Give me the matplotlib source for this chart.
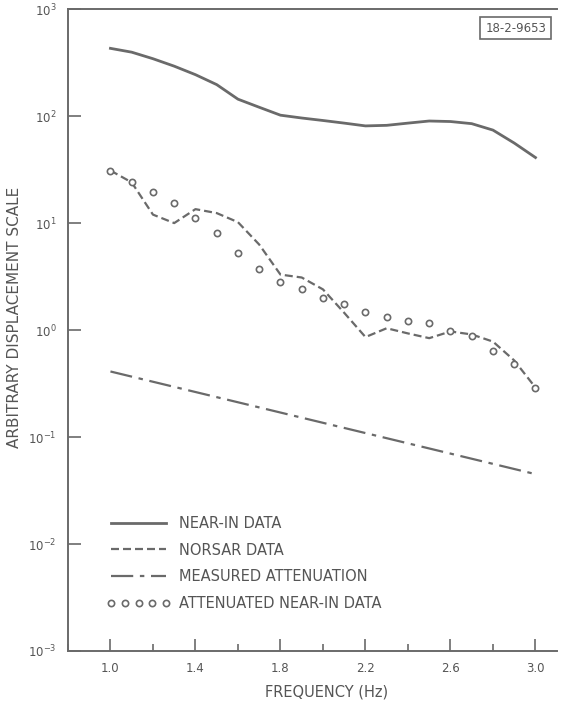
import matplotlib
matplotlib.use("Agg")
import matplotlib.pyplot as plt
from matplotlib.ticker import MultipleLocator, FixedLocator, NullLocator

# values
freq = [1.0, 1.1, 1.2, 1.3, 1.4, 1.5, 1.6, 1.7, 1.8, 1.9, 2.0,
        2.1, 2.2, 2.3, 2.4, 2.5, 2.6, 2.7, 2.8, 2.9, 3.0]
near_in = [430, 396, 344, 293, 244, 197, 144, 121, 102, 96, 91,
           86, 81, 82, 86, 90, 89, 85, 74, 56, 41]
norsar = [31, 24, 12, 10, 13.5, 12.4, 10.2, 6.3, 3.3, 3.1, 2.4,
          1.45, 0.86, 1.04, 0.93, 0.84, 0.97, 0.91, 0.78, 0.52, 0.29]
attenuated = [31, 24, 19.5, 15.4, 11.1, 8.1, 5.2, 3.7, 2.8, 2.4, 2.0,
              1.75, 1.47, 1.32, 1.21, 1.16, 0.98, 0.88, 0.64, 0.48, 0.29]
atten_freq = [1.0, 3.0]
atten_vals = [0.41, 0.045]

xticks = [1.0, 1.4, 1.8, 2.2, 2.6, 3.0]
yticks = [1e-3, 1e-2, 1e-1, 1e0, 1e1, 1e2, 1e3]

GRAY = "#6a6a6a"
TXT = "#555555"

plt.rcParams['font.family'] = ['DejaVu Sans']

fig = plt.figure(figsize=(5.71, 7.03), dpi=100)
ax = fig.add_axes([0.119, 0.074, 0.856, 0.913])

ax.plot(freq, near_in, color=GRAY, lw=2.0, label='NEAR-IN DATA')
ax.plot(freq, norsar, color=GRAY, lw=1.6, ls=(0, (3.6, 1.8)), label='NORSAR DATA')
ax.plot(atten_freq, atten_vals, color=GRAY, lw=1.6,
        ls=(0, (10, 3, 2, 3)), label='MEASURED ATTENUATION')
ax.plot(freq, attenuated, ls='none', marker='o', ms=4.5, mfc='white',
        mec=GRAY, mew=1.2, label='ATTENUATED NEAR-IN DATA')

ax.set_yscale('log')
ax.set_ylim(1e-3, 1e3)
ax.set_xlim(0.8, 3.1)

ax.set_xticks(xticks)
ax.set_xticklabels([f"{t:.1f}" for t in xticks])
ax.xaxis.set_minor_locator(MultipleLocator(0.2))
ax.yaxis.set_major_locator(FixedLocator(yticks))
ax.yaxis.set_minor_locator(NullLocator())

ax.tick_params(which='both', direction='in', colors=GRAY, labelcolor=TXT,
               labelsize=8.5, width=1.2)
ax.tick_params(axis='x', which='major', length=9, pad=8)
ax.tick_params(axis='x', which='minor', length=5)
ax.tick_params(axis='y', which='major', length=9, pad=8)

for side in ['left', 'bottom', 'top']:
    ax.spines[side].set_color(GRAY)
    ax.spines[side].set_linewidth(1.4)
ax.spines['right'].set_visible(False)

ax.set_xlabel('FREQUENCY (Hz)', color=TXT, fontsize=10.5)
ax.xaxis.set_label_coords(0.53, -0.052)
ax.set_ylabel('ARBITRARY DISPLACEMENT SCALE', color=TXT, fontsize=11)
ax.yaxis.set_label_coords(-0.094, 0.52)

leg = ax.legend(loc='lower left', bbox_to_anchor=(0.052, 0.042), frameon=False,
                fontsize=10.5, handlelength=4.4, handletextpad=0.6,
                labelspacing=0.8, numpoints=5, labelcolor=TXT)

fig.text(0.903, 0.96, '18-2-9653', fontsize=8.5, color=TXT, ha='center', va='center',
         bbox=dict(boxstyle='square,pad=0.4', fc='white', ec=GRAY, lw=1.2))

fig.savefig('out.png', dpi=100)
